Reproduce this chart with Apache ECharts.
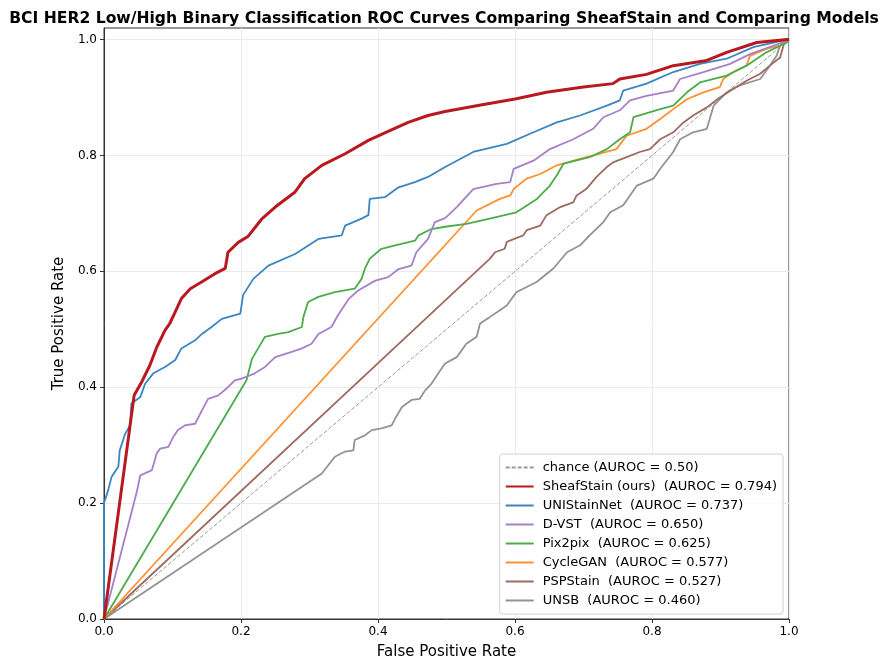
<!DOCTYPE html>
<html>
<head>
<meta charset="utf-8">
<script src="https://cdn.jsdelivr.net/npm/echarts@6/dist/echarts.min.js"></script>
<style>
  html, body { margin: 0; padding: 0; background: #fff; }
  #chart { width: 888px; height: 659px; }
</style>
</head>
<body>
<div id="chart"></div>
<script>
// ROC points [fpr, tpr]
const chancePts = [[0, 0], [1, 1]];
const sheafPts = [[0,0],[0.044,0.386],[0.055,0.409],[0.067,0.438],[0.077,0.469],[0.089,0.498],[0.096,0.51],[0.104,0.53],[0.113,0.553],[0.126,0.57],[0.143,0.582],[0.162,0.596],[0.177,0.605],[0.181,0.633],[0.196,0.65],[0.21,0.66],[0.23,0.69],[0.25,0.711],[0.279,0.737],[0.293,0.76],[0.318,0.783],[0.352,0.803],[0.386,0.826],[0.41,0.839],[0.444,0.857],[0.473,0.869],[0.498,0.876],[0.55,0.887],[0.602,0.898],[0.646,0.909],[0.7,0.918],[0.743,0.924],[0.753,0.932],[0.792,0.94],[0.831,0.955],[0.88,0.964],[0.909,0.978],[0.953,0.995],[0.997,1.0],[1,1]];
const uniPts = [[0,0],[0,0.2],[0.006,0.222],[0.011,0.245],[0.021,0.263],[0.023,0.291],[0.031,0.32],[0.038,0.334],[0.04,0.372],[0.053,0.383],[0.06,0.406],[0.072,0.424],[0.089,0.435],[0.104,0.447],[0.113,0.467],[0.133,0.481],[0.143,0.492],[0.157,0.504],[0.172,0.518],[0.199,0.527],[0.201,0.53],[0.203,0.559],[0.218,0.587],[0.24,0.61],[0.279,0.63],[0.313,0.656],[0.347,0.662],[0.352,0.679],[0.376,0.691],[0.386,0.697],[0.388,0.725],[0.41,0.728],[0.43,0.745],[0.454,0.754],[0.473,0.763],[0.498,0.78],[0.539,0.806],[0.588,0.82],[0.627,0.84],[0.661,0.857],[0.695,0.869],[0.734,0.886],[0.753,0.895],[0.758,0.912],[0.792,0.924],[0.831,0.944],[0.87,0.958],[0.909,0.967],[0.948,0.987],[0.997,1.0],[1,1]];
const dvstPts = [[0,0],[0.048,0.22],[0.053,0.248],[0.07,0.257],[0.077,0.286],[0.082,0.294],[0.094,0.297],[0.101,0.314],[0.108,0.326],[0.118,0.334],[0.133,0.337],[0.143,0.36],[0.152,0.38],[0.167,0.386],[0.181,0.4],[0.191,0.412],[0.201,0.415],[0.22,0.424],[0.235,0.435],[0.25,0.452],[0.274,0.461],[0.289,0.467],[0.303,0.475],[0.313,0.492],[0.332,0.504],[0.342,0.525],[0.357,0.552],[0.371,0.567],[0.396,0.584],[0.415,0.59],[0.43,0.604],[0.449,0.61],[0.456,0.633],[0.473,0.656],[0.483,0.685],[0.498,0.692],[0.515,0.711],[0.539,0.742],[0.573,0.751],[0.593,0.754],[0.598,0.777],[0.627,0.791],[0.651,0.811],[0.685,0.828],[0.714,0.846],[0.729,0.866],[0.753,0.878],[0.768,0.895],[0.792,0.903],[0.831,0.912],[0.841,0.932],[0.875,0.944],[0.914,0.958],[0.943,0.975],[0.997,0.998],[1,1]];
const pix2pixPts = [[0,0],[0.208,0.412],[0.216,0.449],[0.225,0.467],[0.235,0.487],[0.254,0.492],[0.269,0.495],[0.289,0.504],[0.291,0.521],[0.298,0.547],[0.313,0.556],[0.337,0.564],[0.366,0.57],[0.376,0.587],[0.381,0.605],[0.388,0.622],[0.405,0.639],[0.425,0.645],[0.454,0.653],[0.459,0.662],[0.478,0.673],[0.498,0.677],[0.529,0.682],[0.563,0.691],[0.602,0.702],[0.632,0.725],[0.651,0.748],[0.661,0.766],[0.671,0.786],[0.709,0.797],[0.734,0.811],[0.753,0.828],[0.768,0.84],[0.773,0.866],[0.812,0.88],[0.831,0.886],[0.851,0.909],[0.87,0.926],[0.909,0.938],[0.938,0.955],[0.967,0.978],[0.997,0.995],[1,1]];
const cycleganPts = [[0,0],[0.544,0.705],[0.578,0.725],[0.593,0.731],[0.598,0.742],[0.617,0.76],[0.637,0.768],[0.661,0.783],[0.695,0.794],[0.724,0.803],[0.748,0.811],[0.763,0.834],[0.792,0.846],[0.812,0.863],[0.831,0.88],[0.851,0.897],[0.875,0.909],[0.899,0.918],[0.904,0.932],[0.919,0.944],[0.938,0.955],[0.943,0.972],[0.967,0.984],[0.987,0.99],[0.997,1.0],[1,1]];
const pspPts = [[0,0],[0.5635,0.622],[0.571,0.633],[0.585,0.639],[0.588,0.651],[0.612,0.662],[0.617,0.671],[0.637,0.679],[0.646,0.697],[0.666,0.711],[0.685,0.719],[0.69,0.731],[0.704,0.742],[0.719,0.763],[0.734,0.78],[0.743,0.788],[0.763,0.797],[0.782,0.806],[0.797,0.811],[0.812,0.828],[0.831,0.84],[0.846,0.857],[0.86,0.869],[0.88,0.883],[0.899,0.9],[0.919,0.915],[0.938,0.929],[0.958,0.941],[0.972,0.955],[0.987,0.969],[0.992,0.99],[0.997,1.0],[1,1]];
const unsbPts = [[0,0],[0.318,0.251],[0.337,0.28],[0.352,0.289],[0.364,0.291],[0.366,0.309],[0.381,0.317],[0.391,0.326],[0.405,0.329],[0.42,0.334],[0.425,0.346],[0.435,0.366],[0.449,0.378],[0.461,0.38],[0.469,0.395],[0.478,0.406],[0.488,0.424],[0.498,0.441],[0.515,0.452],[0.529,0.475],[0.544,0.487],[0.549,0.51],[0.563,0.521],[0.578,0.533],[0.588,0.541],[0.602,0.564],[0.632,0.582],[0.656,0.605],[0.676,0.633],[0.695,0.645],[0.709,0.662],[0.729,0.685],[0.739,0.702],[0.758,0.714],[0.778,0.748],[0.802,0.76],[0.812,0.777],[0.831,0.806],[0.841,0.828],[0.86,0.84],[0.88,0.846],[0.89,0.886],[0.909,0.909],[0.928,0.921],[0.958,0.932],[0.972,0.955],[0.982,0.972],[0.987,0.99],[0.997,1.0],[1,1]];

const seriesNames = [
  "chance (AUROC = 0.50)",
  "SheafStain (ours)  (AUROC = 0.794)",
  "UNIStainNet  (AUROC = 0.737)",
  "D-VST  (AUROC = 0.650)",
  "Pix2pix  (AUROC = 0.625)",
  "CycleGAN  (AUROC = 0.577)",
  "PSPStain  (AUROC = 0.527)",
  "UNSB  (AUROC = 0.460)"
];
const seriesData = [chancePts, sheafPts, uniPts, dvstPts, pix2pixPts, cycleganPts, pspPts, unsbPts];
const colors = ["#999999", "#b8191e", "#3a86c0", "#a77fcb", "#4aad4a", "#ff9130", "#9e6b60", "#939393"];
const tickVals = [0, 0.2, 0.4, 0.6, 0.8, 1.0];

const font = "DejaVu Sans";

let myChart = echarts.init(document.getElementById("chart"));

let series = seriesData.map((d, i) => {
  let s = {
    name: seriesNames[i],
    type: "line",
    data: d,
    symbol: "none",
    animation: false,
    color: colors[i],
    lineStyle: { color: colors[i], width: 1.8 },
    z: 10 - i
  };
  if (i == 0) {
    s.lineStyle = { color: colors[i], width: 1, type: [4, 2] };
    s.z = 1;
  }
  if (i == 1) {
    s.lineStyle.width = 3;
    s.z = 20;
  }
  return s;
});

let option = {
  backgroundColor: "#fff",
  title: {
    text: "BCI HER2 Low/High Binary Classification ROC Curves Comparing SheafStain and Comparing Models",
    left: "center",
    top: 6,
    textStyle: { fontFamily: font, fontSize: 15.6, fontWeight: "bold", color: "#000" }
  },
  legend: {
    data: seriesNames,
    orient: "vertical",
    right: 105,
    bottom: 45,
    itemWidth: 28,
    itemHeight: 14,
    itemGap: 6,
    padding: [7, 6, 7, 5],
    backgroundColor: "rgba(255,255,255,0.8)",
    borderColor: "#d0d0d0",
    borderWidth: 1,
    borderRadius: 3,
    itemStyle: { opacity: 0 },
    textStyle: { fontFamily: font, fontSize: 13, color: "#000", padding: [0, 0, 0, 4] }
  },
  grid: {
    left: 104,
    right: 99,
    top: 28,
    bottom: 40,
    outerBoundsMode: "none",
    show: true,
    borderColor: "#333",
    borderWidth: 1
  },
  xAxis: {
    type: "value",
    min: 0,
    max: 1,
    interval: 0.2,
    name: "False Positive Rate",
    nameLocation: "middle",
    nameGap: 26,
    nameTextStyle: { fontFamily: font, fontSize: 15, color: "#000" },
    axisLine: { lineStyle: { color: "#333" } },
    axisTick: { length: 4, lineStyle: { color: "#333" } },
    axisLabel: {
      fontFamily: font, fontSize: 12, color: "#000", margin: 7,
      formatter: v => v.toFixed(1)
    },
    splitLine: { show: true, lineStyle: { color: "#ebebeb", width: 1 } }
  },
  yAxis: {
    type: "value",
    min: 0,
    max: 1.02,
    interval: 0.2,
    name: "True Positive Rate",
    nameLocation: "middle",
    nameGap: 35,
    nameTextStyle: { fontFamily: font, fontSize: 15, color: "#000" },
    axisLine: { show: true, lineStyle: { color: "#333" } },
    axisTick: { show: true, length: 4, customValues: tickVals, lineStyle: { color: "#333" } },
    axisLabel: {
      fontFamily: font, fontSize: 12, color: "#000", margin: 7,
      customValues: tickVals,
      formatter: v => v.toFixed(1)
    },
    splitLine: { show: true, lineStyle: { color: "#ebebeb", width: 1 } }
  },
  series: series
};

myChart.setOption(option, true);
</script>
</body>
</html>
